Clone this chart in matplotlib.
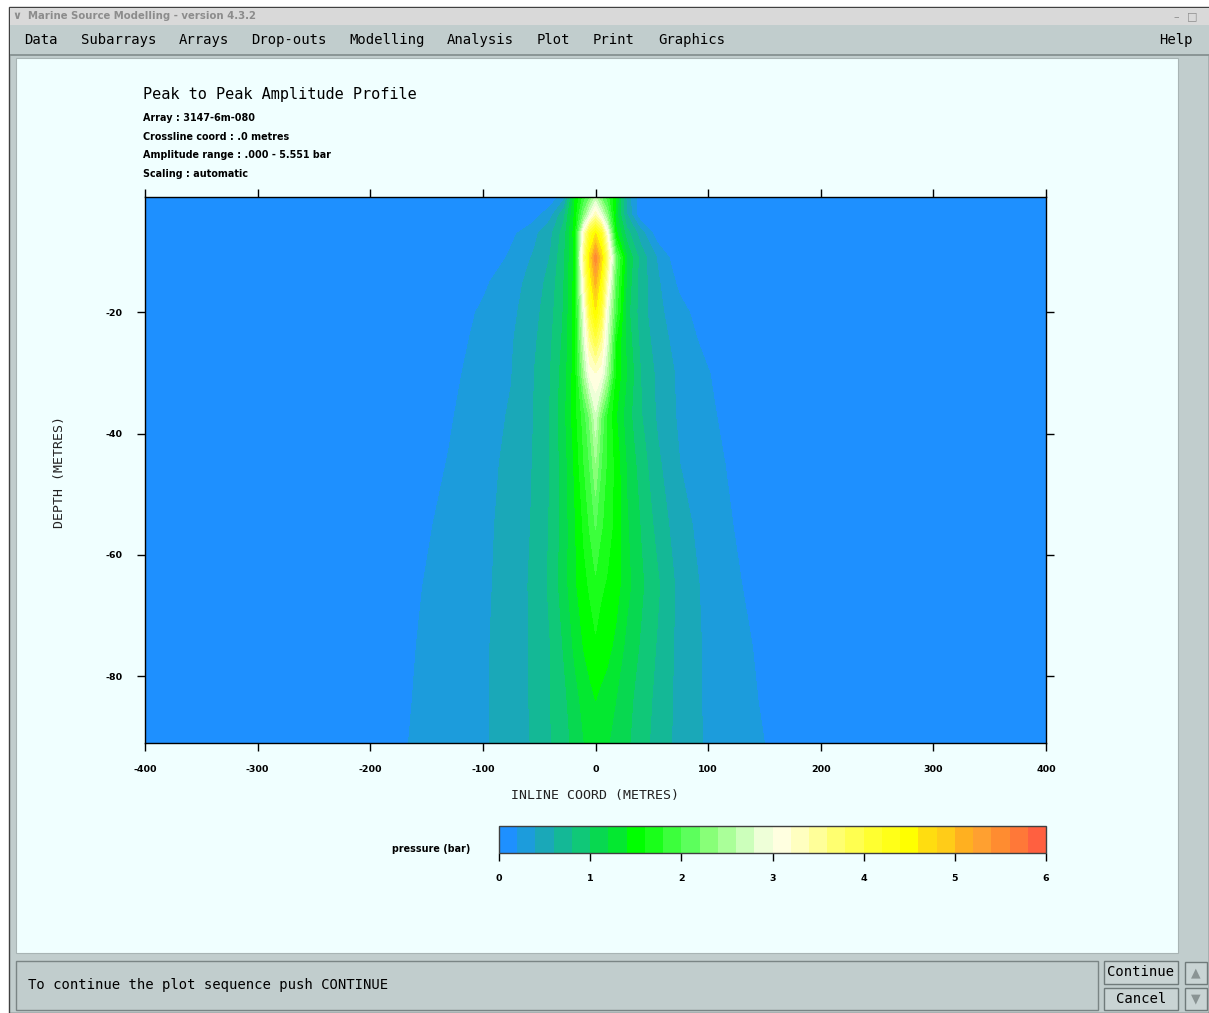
import numpy as np
import matplotlib
matplotlib.use("Agg")
import matplotlib.pyplot as plt
from matplotlib.patches import Rectangle

plt.rcParams["axes.unicode_minus"] = False

W, H = 1209, 1013

# ---------------------------------------------------------------------
# Data
# ---------------------------------------------------------------------
INLINE_X = [-400, -170, -130, -100, -75, -55, -40, -28, -18, -10, -5, 0,
            5, 10, 18, 28, 40, 55, 75, 100, 130, 170, 400]
DEPTH = [-1, -4, -7, -11, -15, -20, -25, -30, -37, -45, -55, -65, -75, -84, -91]

# peak-to-peak amplitude (bar), one row per depth, one column per inline coord
AMP = [
    [0, 0, 0, 0, 0, 0, 0.05, 0.33, 1.40, 1.90, 2.20, 2.60, 2.20, 1.90, 1.40, 0.50, 0.05, 0, 0, 0, 0, 0, 0],
    [0, 0, 0, 0, 0, 0.11, 0.34, 0.75, 1.47, 2.30, 2.88, 3.35, 2.90, 2.35, 1.30, 0.60, 0.05, 0, 0, 0, 0, 0, 0],
    [0, 0, 0, 0, 0.15, 0.34, 0.55, 0.90, 1.53, 3.33, 4.20, 4.60, 4.20, 3.20, 1.47, 0.88, 0.50, 0.08, 0, 0, 0, 0, 0],
    [0, 0, 0, 0.02, 0.24, 0.42, 0.61, 0.97, 1.47, 3.70, 4.70, 5.55, 4.80, 3.82, 2.17, 1.19, 0.72, 0.38, 0.03, 0, 0, 0, 0],
    [0, 0, 0, 0.16, 0.32, 0.47, 0.68, 1.00, 1.50, 3.40, 4.40, 5.10, 4.40, 3.45, 2.03, 1.13, 0.71, 0.43, 0.14, 0, 0, 0, 0],
    [0, 0, 0.09, 0.23, 0.35, 0.52, 0.73, 1.02, 1.52, 3.00, 4.05, 4.55, 4.05, 3.00, 1.92, 1.07, 0.70, 0.45, 0.27, 0.06, 0, 0, 0],
    [0, 0, 0.12, 0.26, 0.38, 0.56, 0.77, 1.05, 1.50, 2.80, 3.50, 3.90, 3.50, 2.85, 1.60, 1.13, 0.75, 0.50, 0.31, 0.14, 0, 0, 0],
    [0, 0, 0.15, 0.28, 0.39, 0.59, 0.80, 1.10, 1.52, 2.50, 3.08, 3.20, 3.08, 2.58, 1.57, 1.19, 0.80, 0.55, 0.35, 0.21, 0.02, 0, 0],
    [0, 0, 0.18, 0.31, 0.42, 0.60, 0.81, 1.14, 1.53, 1.92, 2.26, 2.76, 2.20, 1.80, 1.42, 1.09, 0.82, 0.57, 0.36, 0.24, 0.08, 0, 0],
    [0, 0.07, 0.21, 0.33, 0.45, 0.61, 0.81, 1.10, 1.45, 1.81, 2.02, 2.39, 2.01, 1.78, 1.53, 1.17, 0.91, 0.64, 0.40, 0.27, 0.13, 0.02, 0],
    [0, 0.11, 0.25, 0.35, 0.47, 0.62, 0.82, 1.09, 1.39, 1.65, 1.83, 2.02, 1.83, 1.71, 1.54, 1.22, 0.99, 0.73, 0.47, 0.31, 0.16, 0.06, 0],
    [0, 0.15, 0.27, 0.36, 0.48, 0.64, 0.84, 1.11, 1.37, 1.54, 1.63, 1.75, 1.63, 1.58, 1.49, 1.26, 1.04, 0.83, 0.53, 0.34, 0.20, 0.08, 0],
    [0, 0.17, 0.28, 0.37, 0.49, 0.63, 0.80, 1.02, 1.25, 1.42, 1.49, 1.56, 1.51, 1.47, 1.35, 1.14, 0.98, 0.78, 0.53, 0.36, 0.23, 0.10, 0],
    [0, 0.18, 0.29, 0.37, 0.49, 0.63, 0.80, 0.95, 1.13, 1.27, 1.34, 1.40, 1.35, 1.30, 1.20, 1.06, 0.92, 0.74, 0.53, 0.36, 0.25, 0.11, 0],
    [0, 0.19, 0.29, 0.37, 0.49, 0.62, 0.79, 0.92, 1.07, 1.20, 1.26, 1.32, 1.27, 1.22, 1.14, 1.03, 0.89, 0.72, 0.53, 0.37, 0.27, 0.13, 0],
]

LEVELS = [0.0, 0.2, 0.4, 0.6, 0.8, 1.0, 1.2, 1.4, 1.6, 1.8, 2.0, 2.2, 2.4, 2.6,
          2.8, 3.0, 3.2, 3.4, 3.6, 3.8, 4.0, 4.2, 4.4, 4.6, 4.8, 5.0, 5.2,
          5.4, 5.6, 5.8, 6.0]
BAND_COLORS = [
    "#1e90ff", "#1c9cdc", "#1aa8b8", "#14b896", "#10c878", "#08d850",
    "#04e830", "#00ff00", "#1aff1a", "#3cff3c", "#5cff5c", "#88ff78",
    "#aaff99", "#ccffbb", "#eeffd8", "#ffffe0", "#ffffc0", "#ffff99",
    "#ffff70", "#ffff50", "#ffff30", "#ffff18", "#ffff00", "#ffdd10",
    "#ffcc18", "#ffb020", "#ffa030", "#ff8c30", "#ff7838", "#ff6040",
]

X_TICKS = [-400, -300, -200, -100, 0, 100, 200, 300, 400]
Y_TICKS = [-20, -40, -60, -80]
CBAR_TICKS = [0, 1, 2, 3, 4, 5, 6]

WINDOW_TITLE = "Marine Source Modelling - version 4.3.2"
MENU_ITEMS = ["Data", "Subarrays", "Arrays", "Drop-outs", "Modelling",
              "Analysis", "Plot", "Print", "Graphics", "Help"]
MENU_X = [24, 81, 179, 251, 349, 447, 537, 593, 658, 1159]

PLOT_TITLE = "Peak to Peak Amplitude Profile"
INFO_LINES = ["Array : 3147-6m-080", "Crossline coord : .0 metres",
              "Amplitude range : .000 - 5.551 bar", "Scaling : automatic"]
STATUS_TEXT = "To continue the plot sequence push CONTINUE"


# ---------------------------------------------------------------------
# Helpers (pixel coordinates, y measured from the top)
# ---------------------------------------------------------------------
def fx(px):
    return px / W


def fy(py):
    return 1 - py / H


def box(fig, x0, y0, x1, y1, fc, ec="none", lw=0.0, z=-5):
    fig.add_artist(Rectangle((fx(x0), fy(y1)), (x1 - x0) / W, (y1 - y0) / H,
                             transform=fig.transFigure, fc=fc, ec=ec, lw=lw,
                             zorder=z))


def text(fig, x, y, s, **kw):
    kw.setdefault("va", "center")
    fig.text(fx(x), fy(y), s, **kw)


MONO = "DejaVu Sans Mono"
SMALL = dict(family="DejaVu Sans", fontweight="bold", color="black")

fig = plt.figure(figsize=(W / 100, H / 100), dpi=100, facecolor="white")

# ---- window chrome ----
box(fig, 9, 7, W, H, "#c1cdcd", ec="#404040", lw=1.0, z=-10)
box(fig, 10, 8, W, 25, "#d9d9d9", z=-9)
box(fig, 10, 25, W, 55, "#c1cdcd", z=-9)
box(fig, 10, 54, W, 56, "#8b9696", z=-9)
box(fig, 16, 58, 1178, 953, "#f0ffff", ec="#a8b4b4", lw=0.8, z=-8)
box(fig, 16, 961, 1098, 1010, "#c1cdcd", ec="#7a8585", lw=1.0, z=-8)
box(fig, 1104, 961, 1178, 984, "#c9d4d4", ec="#6f7a7a", lw=1.0, z=-8)
box(fig, 1104, 988, 1178, 1010, "#c9d4d4", ec="#6f7a7a", lw=1.0, z=-8)
box(fig, 1185, 962, 1207, 984, "#c9d4d4", ec="#6f7a7a", lw=1.0, z=-8)
box(fig, 1185, 988, 1207, 1010, "#c9d4d4", ec="#6f7a7a", lw=1.0, z=-8)

text(fig, 12, 16, "\u2228", color="#8c8c8c", fontsize=8, fontweight="bold")
text(fig, 28, 16, WINDOW_TITLE, color="#8c8c8c", fontsize=7.3,
     fontweight="bold", family="DejaVu Sans")
text(fig, 1176, 17, "\u2013", color="#8c8c8c", fontsize=8, ha="center")
text(fig, 1192, 16, "\u25a1", color="#8c8c8c", fontsize=8, ha="center")
for label, xpos in zip(MENU_ITEMS, MENU_X):
    text(fig, xpos, 40, label, family=MONO, fontsize=10, color="black")

text(fig, 28, 985, STATUS_TEXT, family=MONO, fontsize=10, color="black")
text(fig, 1141, 972, "Continue", family=MONO, fontsize=10, ha="center")
text(fig, 1141, 999, "Cancel", family=MONO, fontsize=10, ha="center")
text(fig, 1196, 973, "\u25b2", fontsize=9, ha="center", color="#8a9494")
text(fig, 1196, 999, "\u25bc", fontsize=9, ha="center", color="#8a9494")

# ---- plot titles ----
text(fig, 143, 94, PLOT_TITLE, family=MONO, fontsize=11, color="black")
for i, line in enumerate(INFO_LINES):
    text(fig, 143, 118 + i * 18.7, line, fontsize=6.9, **SMALL)

# ---- contour panel ----
ax = fig.add_axes([fx(145), fy(743), (1046 - 145) / W, (743 - 197) / H])
ax.set_zorder(2)
ax.set_facecolor(BAND_COLORS[0])
cs = ax.contourf(INLINE_X, DEPTH, np.array(AMP), levels=LEVELS,
                 colors=BAND_COLORS)
ax.set_xlim(-400, 400)
ax.set_ylim(-91, -1)
ax.set_xticks(X_TICKS)
ax.set_yticks(Y_TICKS)
ax.tick_params(axis="both", direction="out", length=6, width=1,
               top=True, right=True, labeltop=False, labelright=False,
               labelsize=6.8)
ax.tick_params(axis="x", pad=10)
ax.tick_params(axis="y", pad=10)
for lab in ax.get_xticklabels() + ax.get_yticklabels():
    lab.set_fontweight("bold")
    lab.set_family("DejaVu Sans")
for sp in ax.spines.values():
    sp.set_linewidth(1.0)
    sp.set_color("black")

text(fig, 595, 795, "INLINE COORD (METRES)", family=MONO, fontsize=9.5,
     ha="center", color="#222222")
text(fig, 59, 472, "DEPTH (METRES)", family=MONO, fontsize=9.5,
     ha="center", rotation=90, color="#222222")

# ---- colour key ----
cax = fig.add_axes([fx(499), fy(853), (1046 - 499) / W, (853 - 826) / H])
cax.set_zorder(2)
cb = fig.colorbar(cs, cax=cax, orientation="horizontal", ticks=CBAR_TICKS)
cb.outline.set_linewidth(1.0)
cb.outline.set_edgecolor("#404040")
cax.tick_params(direction="out", length=6, width=1, labelsize=6.8, pad=9)
cax.set_xticklabels([str(t) for t in CBAR_TICKS], fontweight="bold",
                    family="DejaVu Sans")
text(fig, 470, 849, "pressure (bar)", fontsize=6.9, ha="right", **SMALL)

fig.savefig("out.png", dpi=100)
